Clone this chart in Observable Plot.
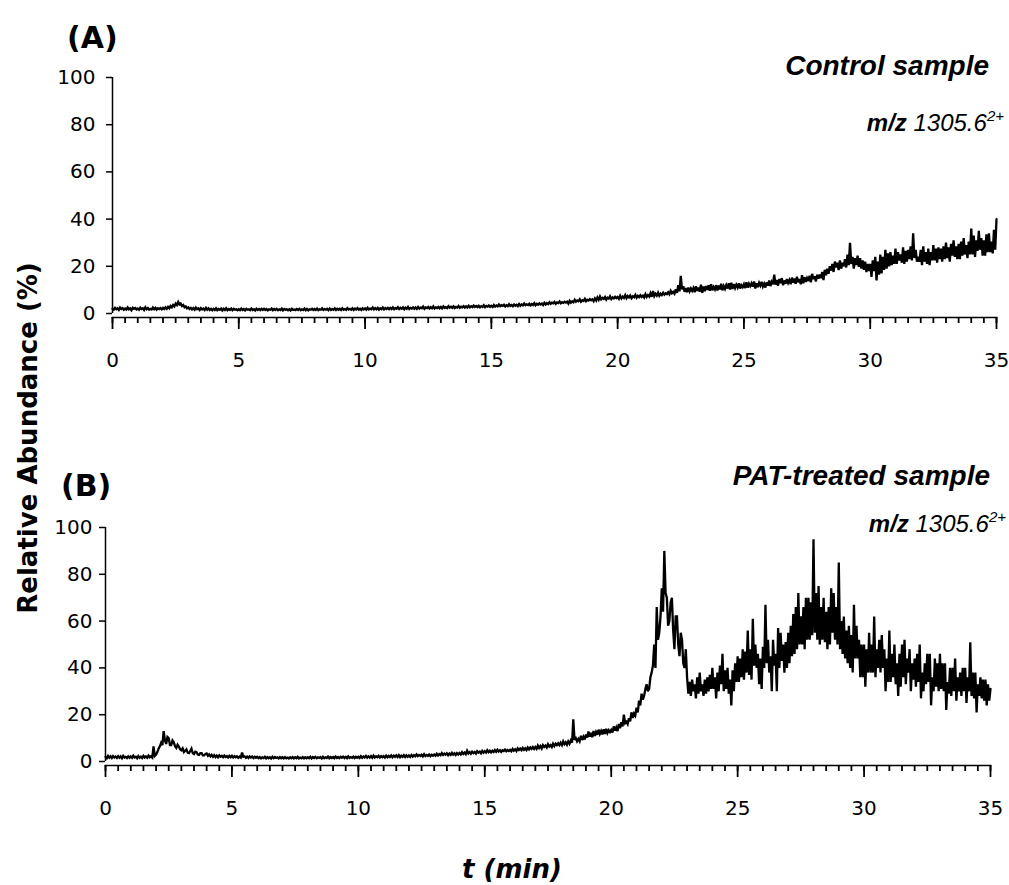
<!DOCTYPE html>
<html><head><meta charset="utf-8">
<script src="https://cdn.jsdelivr.net/npm/d3@7"></script>
<script src="https://cdn.jsdelivr.net/npm/@observablehq/plot@0.6"></script>
<style>
body{margin:0;background:#fff;}
#wrap{position:relative;width:1009px;height:885px;overflow:hidden;background:#fff;}
#wrap svg.panel{position:absolute;left:0;}
#overlay{position:absolute;left:0;top:0;}
</style></head><body><div id="wrap"></div>
<script>
// sampling interval (min)
const step = 0.05;

// (A) Control sample, relative abundance (%), one value per 0.05 min, 0 → 35 min (one row = 1 min)
const controlValues = [
2.0,1.6,2.4,1.8,2.2,1.5,2.5,1.9,2.3,1.6,2.1,1.7,2.6,1.8,2.2,1.4,2.4,2.0,2.3,1.7,
2.1,1.6,2.5,1.9,2.2,1.5,2.6,1.8,2.3,1.6,2.0,1.7,2.5,1.8,2.4,1.6,2.2,1.9,2.3,1.8,
2.4,1.9,2.6,2.0,2.8,2.2,3.2,2.6,3.6,3.0,4.2,3.6,4.9,3.8,4.2,3.2,3.6,2.6,3.0,2.2,
2.6,1.9,2.4,1.7,2.3,1.6,2.5,1.8,2.2,1.5,2.3,1.7,2.1,1.5,2.4,1.6,2.2,1.5,2.0,1.4,
2.0,1.5,2.2,1.4,1.9,1.6,2.1,1.3,2.0,1.5,2.2,1.4,1.9,1.5,2.1,1.4,2.0,1.6,1.8,1.4,
1.8,1.4,2.1,1.5,1.9,1.3,2.0,1.6,1.8,1.4,2.1,1.5,1.8,1.3,2.0,1.5,1.9,1.4,2.0,1.5,
2.0,1.5,1.9,1.3,1.8,1.6,2.1,1.4,1.9,1.5,2.0,1.4,1.8,1.5,2.1,1.3,1.9,1.6,1.8,1.4,
1.8,1.3,2.0,1.5,1.7,1.4,1.9,1.5,2.0,1.4,1.8,1.5,2.1,1.4,1.9,1.3,1.8,1.6,2.0,1.5,
1.9,1.5,2.1,1.4,1.8,1.6,2.2,1.5,1.9,1.6,2.0,1.4,2.1,1.5,1.9,1.6,2.2,1.5,2.0,1.6,
2.0,1.5,2.2,1.6,1.9,1.5,2.3,1.7,2.0,1.6,2.2,1.5,2.1,1.7,2.3,1.6,2.0,1.5,2.2,1.7,
2.2,1.6,2.4,1.7,2.1,1.8,2.5,1.7,2.3,1.8,2.4,1.6,2.2,1.8,2.5,1.7,2.3,1.9,2.4,1.8,
2.4,1.9,2.6,1.8,2.3,2.0,2.7,1.9,2.4,2.0,2.6,1.8,2.5,2.0,2.8,1.9,2.4,2.1,2.6,2.0,
2.6,2.0,2.8,2.1,2.5,2.2,2.9,2.0,2.6,2.3,2.8,2.1,2.7,2.2,3.0,2.1,2.6,2.3,2.8,2.2,
2.8,2.2,3.0,2.4,2.7,2.3,3.1,2.5,2.9,2.4,3.0,2.3,2.8,2.5,3.2,2.4,2.9,2.6,3.1,2.5,
3.0,2.5,3.3,2.6,3.1,2.7,3.4,2.8,3.2,2.7,3.3,2.6,3.1,2.8,3.5,2.7,3.2,2.9,3.4,2.8,
3.3,2.8,3.6,2.9,3.4,3.0,3.8,3.1,3.5,3.2,3.7,3.0,3.5,3.1,3.9,3.2,3.6,3.1,3.8,3.3,
3.7,3.1,4.0,3.3,3.8,3.4,4.2,3.5,3.9,3.6,4.1,3.4,4.0,3.6,4.4,3.5,4.1,3.7,4.3,3.8,
4.2,3.6,4.5,3.8,4.4,4.0,4.8,4.1,4.6,4.3,4.9,4.1,4.7,4.4,5.1,4.3,4.8,4.5,5.0,4.6,
5.0,4.2,5.4,4.6,5.2,4.8,5.8,5.0,5.5,5.2,6.0,5.0,5.6,5.3,6.2,5.2,5.8,5.5,6.1,5.6,
6.0,5.2,6.4,5.5,6.8,5.8,7.2,6.0,6.6,6.2,7.0,5.9,6.7,6.3,7.3,6.1,6.8,6.4,7.1,6.5,
7.0,6.2,7.5,6.4,7.2,6.6,7.8,6.5,7.4,6.8,7.6,6.5,7.3,6.9,7.9,6.7,7.5,6.9,7.7,7.0,
7.6,6.8,8.2,7.0,7.8,7.2,8.6,7.1,9.5,7.4,8.4,7.6,8.8,7.5,8.4,7.8,8.8,8.0,8.6,8.2,
9.0,8.2,9.6,8.6,9.2,8.4,10.2,8.8,12.0,9.4,16.0,10.2,11.5,9.2,10.8,9.0,11.0,9.4,10.6,9.6,
10.8,9.0,11.5,9.6,11.0,9.2,12.2,8.8,11.4,9.4,11.6,10.0,12.0,9.6,12.4,9.8,11.2,10.2,12.0,9.8,
11.8,10.2,12.6,9.8,11.6,10.4,12.0,10.6,12.8,10.2,13.0,10.4,12.4,10.8,12.2,11.0,12.8,10.6,12.0,11.2,
12.4,10.8,13.2,11.0,12.6,11.6,12.8,11.4,13.6,10.6,12.8,11.2,13.0,11.8,13.4,11.4,12.6,11.0,13.2,11.8,
14.0,11.6,13.4,12.4,16.5,12.2,14.2,11.8,14.6,12.8,15.0,12.0,14.0,12.6,14.6,13.0,14.2,12.4,15.2,13.0,
14.8,12.6,15.6,13.2,14.6,12.4,16.2,12.8,15.4,13.4,15.0,13.8,16.0,13.2,16.8,14.6,15.8,13.6,16.4,14.8,
16.5,15.0,17.6,14.2,18.5,16.2,19.0,16.8,20.0,18.2,21.0,17.6,22.0,19.5,21.5,18.4,22.5,19.0,21.5,20.0,
23.0,19.5,25.0,20.5,30.0,21.0,24.0,19.0,23.5,20.5,24.5,19.8,23.5,19.0,22.5,18.5,22.0,17.5,21.0,18.0,
21.0,15.5,22.5,18.0,24.0,14.0,22.0,16.5,25.0,17.0,24.0,18.5,27.0,19.0,25.5,20.0,26.0,20.5,24.5,21.0,
27.5,21.0,26.0,22.5,25.0,21.5,28.0,21.0,26.5,22.0,27.0,23.0,28.5,22.5,34.0,23.5,27.0,22.0,24.0,22.0,
27.0,20.5,28.5,22.0,26.0,21.0,27.5,20.5,26.0,22.5,29.0,22.5,27.5,21.5,28.0,23.0,27.5,22.0,28.5,23.0,
30.0,23.5,28.0,22.0,29.5,24.5,31.0,24.0,28.5,23.0,29.5,23.0,30.5,24.5,32.0,25.0,29.0,23.5,30.5,25.0,
36.0,25.0,33.0,24.0,31.0,26.5,35.0,27.0,32.0,24.5,31.0,24.5,33.5,26.0,34.0,26.0,30.5,25.5,35.5,27.0,
40.0
];

// (B) PAT-treated sample, relative abundance (%), one value per 0.05 min, 0 → 35 min (one row = 1 min)
const patValues = [
2.0,1.4,2.4,1.6,2.2,1.5,2.3,1.7,2.1,1.5,2.3,1.6,2.2,1.4,2.4,1.7,2.0,1.5,2.2,1.6,
2.2,1.6,2.5,1.7,2.0,1.4,2.3,1.6,2.1,1.5,2.4,1.7,2.2,1.6,2.5,1.8,2.2,1.7,6.5,2.4,
3.0,4.0,5.5,6.5,8.0,7.0,13.0,9.0,7.5,10.5,10.0,7.0,7.0,9.0,8.2,6.5,5.8,7.2,6.4,5.2,
4.8,5.6,4.0,4.6,5.2,3.8,3.6,4.4,5.5,3.6,3.2,4.2,4.0,3.0,2.8,3.6,3.6,2.6,2.6,3.2,
3.4,2.4,3.0,2.2,2.8,2.0,2.7,1.9,2.5,1.8,2.6,2.0,2.4,1.8,2.5,1.9,2.3,1.7,2.4,1.8,
2.4,1.7,2.3,1.8,2.2,1.6,2.1,1.7,3.8,2.0,2.2,1.6,2.1,1.5,2.2,1.7,2.1,1.5,2.0,1.6,
2.0,1.4,1.9,1.3,1.8,1.5,2.0,1.3,1.9,1.4,1.8,1.3,2.0,1.4,1.9,1.5,1.8,1.3,1.9,1.4,
1.8,1.3,1.9,1.4,1.7,1.3,1.8,1.4,1.9,1.3,1.8,1.4,2.0,1.3,1.7,1.4,1.9,1.3,1.8,1.4,
1.8,1.4,2.0,1.3,1.9,1.5,2.0,1.4,1.8,1.5,1.9,1.3,2.0,1.4,1.8,1.5,2.1,1.4,1.9,1.5,
1.9,1.4,2.1,1.5,1.9,1.4,2.0,1.6,2.1,1.5,2.0,1.4,2.2,1.5,1.9,1.6,2.1,1.5,2.0,1.6,
2.0,1.5,2.3,1.6,2.1,1.7,2.4,1.6,2.2,1.7,2.3,1.6,2.5,1.7,2.2,1.8,2.4,1.7,2.3,1.8,
2.3,1.7,2.5,1.8,2.4,1.9,2.6,1.8,2.5,2.0,2.6,1.9,2.7,1.8,2.5,2.0,2.7,1.9,2.6,2.0,
2.6,2.0,2.8,2.1,2.7,2.2,3.0,2.3,2.8,2.4,2.9,2.2,3.1,2.3,2.8,2.4,3.0,2.3,2.9,2.5,
3.0,2.5,3.3,2.6,3.2,2.7,3.6,2.8,3.4,2.9,3.5,2.7,3.4,2.8,3.7,2.9,3.5,2.8,3.6,3.0,
3.6,3.0,4.0,3.2,3.8,3.1,4.6,3.4,4.0,3.3,4.2,3.6,4.1,3.4,4.4,3.8,4.2,3.5,4.5,3.8,
4.4,3.8,4.8,4.0,4.6,3.9,4.6,4.1,4.9,4.2,5.0,4.3,4.8,4.1,4.8,4.5,5.1,4.4,4.9,4.5,
5.0,4.4,5.4,4.6,5.2,4.5,5.6,4.9,5.5,4.8,5.8,5.0,5.6,4.9,6.0,5.2,6.0,5.4,6.2,5.4,
6.2,5.4,6.8,5.8,6.6,5.6,7.0,6.2,6.8,6.0,7.4,6.4,7.0,6.2,7.6,6.6,7.6,7.0,7.8,7.0,
8.0,7.0,8.6,7.4,8.2,7.2,8.6,7.6,9.0,8.0,18.0,9.2,10.0,8.6,9.6,8.6,11.0,9.2,10.6,9.4,
11.5,10.2,12.8,10.6,12.2,10.4,13.0,11.0,12.6,11.4,13.6,11.8,13.0,11.6,13.8,11.8,14.0,12.2,13.4,12.6,
13.5,12.4,15.0,13.2,14.6,13.0,16.0,14.2,16.8,15.0,20.0,16.4,17.0,16.0,18.5,17.2,21.0,18.6,20.5,19.6,
23.0,21.0,26.0,24.0,29.0,26.5,28.0,31.0,33.0,30.0,31.0,36.0,38.0,41.0,50.0,40.0,66.0,52.0,55.0,62.0,
74.0,64.0,90.0,72.0,70.0,58.0,60.0,68.0,70.0,56.0,48.0,62.0,62.0,50.0,45.0,55.0,52.0,42.0,40.0,48.0,
36,29,34,28,35,30,33,27,36,29,38,30,33,28,35,29,36,30,37,31,
40,31,36,27,38,30,41,33,46,30,39,31,40,29,35,24,39,30,42,34,
45,34,44,36,48,35,47,38,56,37,48,35,61,41,50,40,46,33,44,31,
49,40,67,42,52,38,45,30,52,41,46,30,57,40,55,43,50,38,51,40,
55,42,58,45,63,46,66,48,72,50,62,50,66,48,70,52,70,52,68,54,
95,55,72,52,75,50,66,52,70,51,64,48,66,50,74,55,72,52,66,50,
85,48,60,46,62,44,56,42,58,40,54,38,67,44,58,44,52,36,50,36,
50,32,48,38,55,38,50,38,62,36,48,40,52,38,54,40,48,30,44,34,
56,34,46,36,50,33,42,28,46,32,50,36,52,33,44,38,48,30,42,35,
44,32,46,34,50,27,38,30,42,33,46,34,46,24,36,30,44,32,42,30,
46,31,42,30,42,22,34,29,40,28,40,30,44,26,36,30,38,28,40,30,
40,25,36,30,51,28,38,27,38,21,33,28,36,27,35,26,35,24,33,26,
31
];

const xMajorTicks = [0, 5, 10, 15, 20, 25, 30, 35];
const xMinorTicks = d3.range(0, 35.25, 0.5);
const yTicks = [0, 20, 40, 60, 80, 100];

const tickFont = "'DejaVu Sans',Verdana,sans-serif";

function panel(values, o) {
  const data = values.map((v, i) => ({t: +(i * step).toFixed(3), v}));
  const svg = Plot.plot({
    width: 1009, height: o.height,
    marginTop: o.marginTop, marginBottom: o.marginBottom,
    marginLeft: o.marginLeft, marginRight: o.marginRight,
    style: {fontFamily: tickFont, fontSize: "20px", color: "#000", background: "transparent", overflow: "visible"},
    x: {domain: [0, 35]},
    y: {domain: [0, 100], insetBottom: 4},
    marks: [
      Plot.ruleX([0], {y1: 0, y2: 100, stroke: "#000", strokeWidth: 1.5}),
      Plot.frame({anchor: "bottom", stroke: "#000", strokeWidth: 1.5}),
      Plot.axisY({ticks: yTicks, tickSize: 6, tickPadding: o.yPad, label: null, strokeWidth: 1.5, fontSize: 20}),
      Plot.axisX({ticks: xMinorTicks, tickSize: 6, tickFormat: () => "", label: null, strokeWidth: 1.8}),
      Plot.axisX({ticks: xMajorTicks, tickSize: 12, tickPadding: 23, label: null, strokeWidth: 1.8, fontSize: 20}),
      Plot.line(data, {x: "t", y: "v", stroke: "#000", strokeWidth: 2.3, strokeLinejoin: "miter", strokeMiterlimit: 3})
    ]
  });
  svg.classList.add("panel");
  svg.style.top = o.top + "px";
  return svg;
}

const wrap = document.getElementById("wrap");
wrap.appendChild(panel(controlValues, {top: 0, height: 400, marginTop: 77, marginBottom: 83, marginLeft: 112, marginRight: 13, yPad: 11}));
wrap.appendChild(panel(patValues, {top: 400, height: 485, marginTop: 127, marginBottom: 120, marginLeft: 105, marginRight: 19, yPad: 7}));

const ns = "http://www.w3.org/2000/svg";
const overlay = document.createElementNS(ns, "svg");
overlay.setAttribute("id", "overlay");
overlay.setAttribute("width", 1009);
overlay.setAttribute("height", 885);
overlay.innerHTML = `
<g font-family="'DejaVu Sans',sans-serif" font-weight="bold" fill="#000">
  <text x="67" y="48" font-size="30">(A)</text>
  <text x="61" y="496" font-size="30">(B)</text>
  <text transform="translate(37,438) rotate(-90)" text-anchor="middle" font-size="26">Relative Abundance (%)</text>
  <text x="512" y="878" text-anchor="middle" font-size="26" font-style="italic">t (min)</text>
</g>
<g font-family="'Liberation Sans',Arial,sans-serif" font-style="italic" fill="#000">
  <text x="989" y="75" text-anchor="end" font-size="28" font-weight="bold">Control sample</text>
  <text x="1004" y="131" text-anchor="end" font-size="24"><tspan font-weight="bold">m/z</tspan> 1305.6<tspan dy="-10" font-size="15">2+</tspan></text>
  <text x="990" y="485" text-anchor="end" font-size="28" font-weight="bold">PAT-treated sample</text>
  <text x="1006" y="532" text-anchor="end" font-size="24"><tspan font-weight="bold">m/z</tspan> 1305.6<tspan dy="-10" font-size="15">2+</tspan></text>
</g>`;
wrap.appendChild(overlay);
</script>
</body></html>
